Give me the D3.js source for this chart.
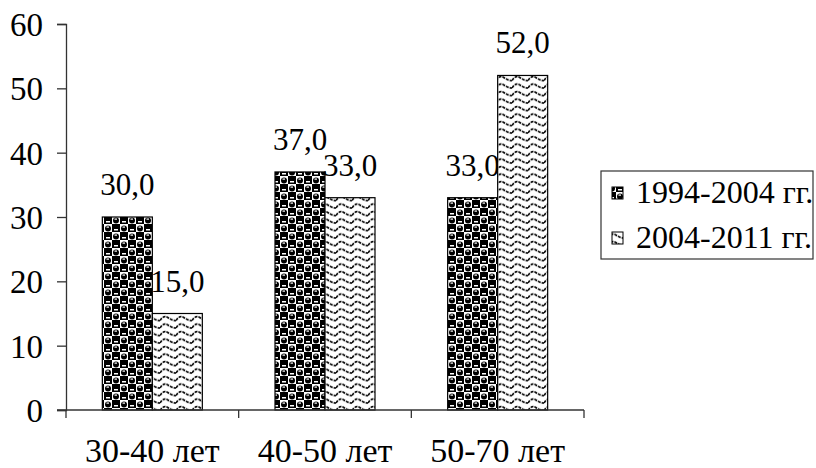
<!DOCTYPE html>
<html><head><meta charset="utf-8">
<script src="https://cdn.jsdelivr.net/npm/d3@7"></script>
<style>body{margin:0;background:#fff}svg{display:block}svg text{font-family:"Liberation Serif","Times New Roman","DejaVu Serif",serif !important}</style>
</head><body>
<script>
const categories = ["30-40 лет", "40-50 лет", "50-70 лет"];
const seriesNames = ["1994-2004 гг.", "2004-2011 гг."];
const series1 = [30.0, 37.0, 33.0];
const series2 = [15.0, 33.0, 52.0];
const yTicks = [0, 10, 20, 30, 40, 50, 60];

const W = 816, H = 468;
const svg = d3.select("body").append("svg").attr("width", W).attr("height", H);

const defs = svg.append("defs");
// sphere / checker pattern
const p1 = defs.append("pattern").attr("id", "pSphere").attr("patternUnits", "userSpaceOnUse")
  .attr("width", 16).attr("height", 16);
p1.append("rect").attr("width", 16).attr("height", 16).attr("fill", "#fff");
p1.append("rect").attr("x", 0).attr("y", 0).attr("width", 8).attr("height", 8).attr("fill", "#000");
p1.append("rect").attr("x", 8).attr("y", 8).attr("width", 8).attr("height", 8).attr("fill", "#000");
[[12, 4.5], [4, 12.5]].forEach(([cx, cy]) => {
  p1.append("circle").attr("cx", cx).attr("cy", cy).attr("r", 3).attr("fill", "#000");
  p1.append("rect").attr("x", cx - 1.5).attr("y", cy - 2).attr("width", 2.5).attr("height", 1.2).attr("fill", "#fff");
});
[[4, 4], [12, 12]].forEach(([cx, cy]) => {
  p1.append("rect").attr("x", cx - 2).attr("y", cy + 1).attr("width", 4).attr("height", 1.5).attr("fill", "#fff");
});
// wave pattern
const p2 = defs.append("pattern").attr("id", "pWave").attr("patternUnits", "userSpaceOnUse")
  .attr("width", 16).attr("height", 7.5);
p2.append("rect").attr("width", 16).attr("height", 7.5).attr("fill", "#fff");
p2.append("path").attr("d", "M0,5.5 Q4,-0.5 8,2.5 T16,5.5").attr("fill", "none")
  .attr("stroke", "#000").attr("stroke-width", 1.7).attr("stroke-dasharray", "3,1");

const x0 = d3.scaleBand().domain(categories).range([66, 584]).paddingInner(0).paddingOuter(0);
const y = d3.scaleLinear().domain([0, 60]).range([410, 24]);
const barW = 50;

// y axis
const yAxis = d3.axisLeft(y).tickValues(yTicks).tickSize(9).tickPadding(14).tickFormat(d3.format("d"));
const gy = svg.append("g").attr("transform", "translate(66,0)").call(yAxis)
  .attr("font-size", 33);
gy.select(".domain").attr("stroke", "#333").attr("stroke-width", 1.3);
gy.selectAll(".tick line").attr("stroke", "#333").attr("stroke-width", 1.3);
gy.selectAll(".tick text").attr("fill", "#000").attr("dy", "0.35em");

// bars
const data = categories.map((c, i) => ({ c, v: [series1[i], series2[i]] }));
const fills = ["url(#pSphere)", "url(#pWave)"];
data.forEach(d => {
  const cx = x0(d.c) + x0.bandwidth() / 2;
  d.v.forEach((v, j) => {
    const bx = cx - barW + j * barW;
    svg.append("rect").attr("x", bx).attr("y", y(v)).attr("width", barW).attr("height", y(0) - y(v))
      .attr("fill", fills[j]).attr("stroke", "#000").attr("stroke-width", 1.2);
    svg.append("text").attr("x", bx + barW / 2).attr("y", y(v) - 22).attr("text-anchor", "middle")
      .attr("font-size", 31).attr("fill", "#000")
      .text(d3.format(".1f")(v).replace(".", ","));
  });
});

// x axis
const gx = svg.append("g").attr("transform", "translate(0,410)");
gx.append("line").attr("x1", 57).attr("x2", x0.range()[1]).attr("stroke", "#333").attr("stroke-width", 1.3);
[...categories.map(c => x0(c)), x0.range()[1]].forEach(xp => {
  gx.append("line").attr("x1", xp).attr("x2", xp).attr("y1", 0).attr("y2", 8).attr("stroke", "#333").attr("stroke-width", 1.3);
});
categories.forEach(c => {
  gx.append("text").attr("x", x0(c) + x0.bandwidth() / 2).attr("y", 52).attr("text-anchor", "middle")
    .attr("font-size", 34).attr("fill", "#000").text(c);
});

// legend
const lg = svg.append("g");
lg.append("rect").attr("x", 601).attr("y", 171).attr("width", 212).attr("height", 88)
  .attr("fill", "#fff").attr("stroke", "#333").attr("stroke-width", 1.2);
seriesNames.forEach((n, i) => {
  const yy = 193 + i * 45;
  lg.append("rect").attr("x", 612).attr("y", yy - 6).attr("width", 11).attr("height", 12)
    .attr("fill", fills[i]).attr("stroke", "#000").attr("stroke-width", 1);
  lg.append("text").attr("x", 636).attr("y", yy + 10).attr("font-size", 32)
    .attr("fill", "#000").text(n);
});
</script>
</body></html>
